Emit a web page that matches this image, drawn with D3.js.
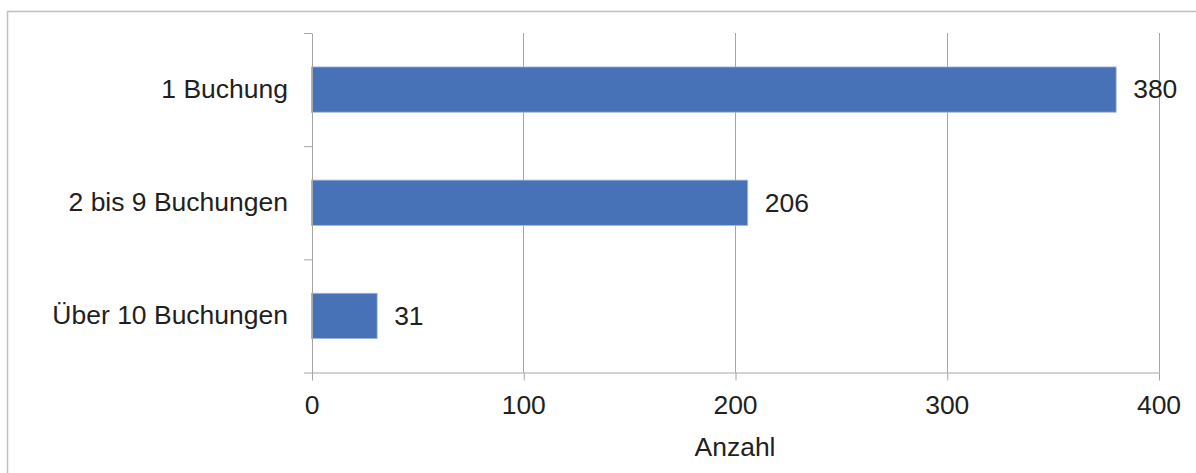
<!DOCTYPE html>
<html>
<head>
<meta charset="utf-8">
<script src="https://cdn.jsdelivr.net/npm/d3@7"></script>
<style>
  body { margin: 0; background: #fff; }
  svg { display: block; font-family: "Liberation Sans", Arial, sans-serif; }
  .grid line { stroke: #a6a6a6; stroke-width: 1; }
  .axis path, .axis line { stroke: #a6a6a6; stroke-width: 1; }
  .axis text { fill: #231f20; font-size: 25px; }
</style>
</head>
<body>
<script>
// data
var categories = ["1 Buchung", "2 bis 9 Buchungen", "Über 10 Buchungen"];
var values = [380, 206, 31];
var xTicks = [0, 100, 200, 300, 400];
var xTitle = "Anzahl";

(function(){
var width = 1196, height = 473;
var plotLeft = 311.5, plotRight = 1158.5, plotTop = 33, plotBottom = 372.5;
var stretch = "scale(1.06,1)"; // source text is slightly wider than Arial

var svg = d3.select("body").append("svg")
    .attr("width", width)
    .attr("height", height);

// outer frame (top and left edges visible)
svg.append("path")
    .attr("d", "M7.5," + height + "V11.5H" + width)
    .attr("fill", "none")
    .attr("stroke", "#bfbfbf")
    .attr("stroke-width", 1.5);

var x = d3.scaleLinear().domain([0, 400]).range([plotLeft, plotRight]);
var y = d3.scaleBand().domain(categories).range([plotTop, plotBottom])
    .paddingInner(0.6).paddingOuter(0.3);

// vertical gridlines
svg.append("g").attr("class", "grid")
  .selectAll("line")
  .data(xTicks.slice(1))
  .enter().append("line")
    .attr("x1", function(d){ return Math.round(x(d)) + 0.5; })
    .attr("x2", function(d){ return Math.round(x(d)) + 0.5; })
    .attr("y1", plotTop)
    .attr("y2", plotBottom);

// bars
svg.append("g")
  .selectAll("rect")
  .data(values)
  .enter().append("rect")
    .attr("x", x(0))
    .attr("y", function(d, i){ return y(categories[i]); })
    .attr("width", function(d){ return x(d) - x(0); })
    .attr("height", y.bandwidth())
    .attr("fill", "#4872b7")
    .attr("stroke", "#9fb5dd")
    .attr("stroke-width", 0.8);

// value labels
svg.append("g")
  .selectAll("text")
  .data(values)
  .enter().append("text")
    .attr("transform", function(d, i){
        return "translate(" + (x(d) + 17) + "," + (y(categories[i]) + y.bandwidth() / 2) + ")" + stretch;
    })
    .attr("dy", "0.35em")
    .attr("fill", "#231f20")
    .style("font-size", "25px")
    .text(function(d){ return d; });

// y axis: ticks at category boundaries
var yEdge = d3.scaleLinear().domain([0, categories.length]).range([plotTop, plotBottom]);
svg.append("g").attr("class", "axis")
    .attr("transform", "translate(" + (plotLeft + 0.5) + ",0)")
    .call(d3.axisLeft(yEdge).tickValues(d3.range(categories.length + 1))
        .tickSize(8).tickSizeOuter(0).tickFormat(""));

// category labels
svg.append("g")
  .selectAll("text")
  .data(categories)
  .enter().append("text")
    .attr("transform", function(d){
        return "translate(288," + (y(d) + y.bandwidth() / 2) + ")" + stretch;
    })
    .attr("dy", "0.33em")
    .attr("text-anchor", "end")
    .attr("fill", "#231f20")
    .style("font-size", "25px")
    .text(function(d){ return d; });

// x axis
var xAxis = svg.append("g").attr("class", "axis")
    .attr("transform", "translate(0," + plotBottom + ")")
    .call(d3.axisBottom(x).tickValues(xTicks).tickSize(8).tickSizeOuter(0));
xAxis.selectAll(".tick line").attr("transform", "translate(0.5,0)");
xAxis.selectAll("text").attr("dy", "0").attr("y", null)
    .attr("transform", "translate(0,41.5)" + stretch);

// x axis title
svg.append("text")
    .attr("transform", "translate(" + ((plotLeft + plotRight) / 2) + ",456)" + stretch)
    .attr("text-anchor", "middle")
    .attr("fill", "#231f20")
    .style("font-size", "25px")
    .text(xTitle);
})();
</script>
</body>
</html>
